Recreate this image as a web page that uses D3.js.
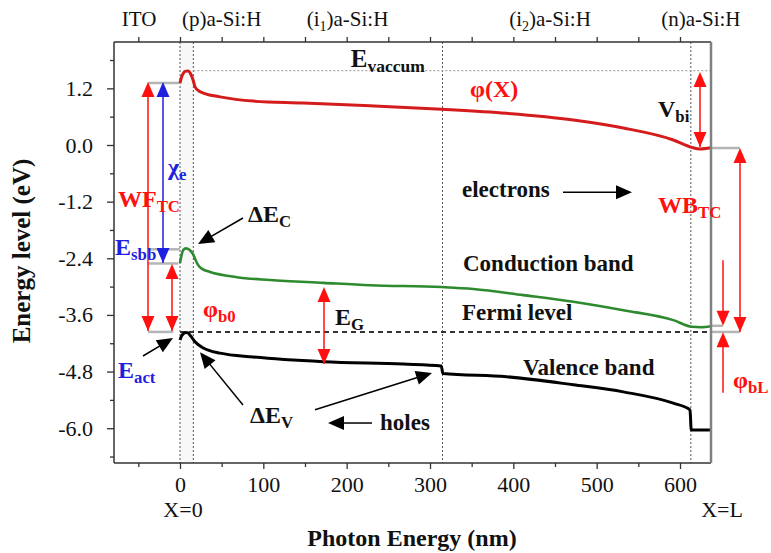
<!DOCTYPE html>
<html><head><meta charset="utf-8">
<script src="https://cdn.jsdelivr.net/npm/d3@7"></script>
<style>
html,body{margin:0;padding:0;background:#fff;}
svg, svg text, svg tspan{font-family:'Liberation Serif','DejaVu Serif','Times New Roman',serif !important;}
</style></head>
<body><svg id="c" width="771" height="553" font-family="Liberation Serif, DejaVu Serif, serif"></svg>
<script>
// ---------- data ----------
const xMajorTicks = [0,100,200,300,400,500,600];
const xMinorTicks = [-50,50,150,250,350,450,550];
const yMajorTicks = [-6.0,-4.8,-3.6,-2.4,-1.2,0.0,1.2];
const yMinorTicks = [-6.6,-5.4,-4.2,-3.0,-1.8,-0.6,0.6,1.8];
const layerNames = ["ITO","(p)a-Si:H","(i1)a-Si:H","(i2)a-Si:H","(n)a-Si:H"];
const layerLabelX = [-49,50,201,444,625];
const interfaces = [0,16,315,613];
const vacuumLevelX = [0,1.5,4,6,9.6,13,16,18,23,28,48,88,148,228,314,392,472,532,592,614,624,637];
const vacuumLevelE = [1.31,1.42,1.52,1.56,1.57,1.50,1.36,1.23,1.14,1.10,1.02,0.93,0.89,0.83,0.756,0.67,0.53,0.36,0.106,-0.05,-0.085,-0.06];
const conductionX = [0,1.5,4,7,9.6,12.5,15.6,19,21.6,27,36,68,108,172,228,314,352,412,472,532,592,614,625,637];
const conductionE = [-2.50,-2.36,-2.22,-2.19,-2.20,-2.24,-2.31,-2.45,-2.54,-2.63,-2.69,-2.80,-2.86,-2.92,-2.97,-3.01,-3.05,-3.18,-3.32,-3.50,-3.71,-3.85,-3.86,-3.84];
const valenceX = [0,1.5,4,7,9.6,13,18,28,48,88,172,268,313.5,315.5,392,472,532,592,612,613.5,625,637];
const valenceE = [-4.13,-4.06,-4.00,-3.97,-3.98,-4.05,-4.17,-4.30,-4.41,-4.49,-4.59,-4.64,-4.68,-4.84,-4.91,-5.08,-5.23,-5.47,-5.61,-6.04,-6.04,-6.04];
const fermiE = -3.96;
const vacuumRefE = 1.575;

// ---------- layout ----------
const FONT = "'Liberation Serif','DejaVu Serif',serif";
const svg = d3.select("#c");
const L=114,R=711,T=42,B=463;
const x = d3.scaleLinear().domain([-79.2,637.2]).range([L,R]);
const y = d3.scaleLinear().domain([-6.737,2.182]).range([B,T]);
const RED="#ff1010", BLUE="#1f1fe0", CURVERED="#d41c1c", GREEN="#2e8a2e";

// light shading of p-layer
svg.append("rect").attr("x",x(interfaces[0])).attr("y",T).attr("width",x(interfaces[1])-x(interfaces[0])).attr("height",B-T).attr("fill","#f8f8f8");

// interface dotted lines
svg.selectAll("line.intf").data(interfaces).enter().append("line")
  .attr("x1",d=>x(d)).attr("x2",d=>x(d)).attr("y1",T).attr("y2",B)
  .attr("stroke","#555").attr("stroke-width",1).attr("stroke-dasharray","2,2");

// vacuum reference dotted
svg.append("line").attr("x1",x(interfaces[1])).attr("x2",R).attr("y1",y(vacuumRefE)).attr("y2",y(vacuumRefE))
  .attr("stroke","#aaa").attr("stroke-width",1.2).attr("stroke-dasharray","2,2");

// gray level connectors
const gray = [[-38.4,0,1.314],[-38.4,0,-2.21],[-38.4,-2,-2.51],[-38.4,-8,fermiE],[637,672,-0.064],[637,651.6,-3.83],[637,672,fermiE]];
svg.selectAll("line.gl").data(gray).enter().append("line")
  .attr("x1",d=>x(d[0])).attr("x2",d=>x(d[1])).attr("y1",d=>y(d[2])).attr("y2",d=>y(d[2]))
  .attr("stroke","#b5b5b5").attr("stroke-width",2.5);

// Fermi level
svg.append("line").attr("x1",x(0)).attr("x2",R).attr("y1",y(fermiE)).attr("y2",y(fermiE))
  .attr("stroke","#333").attr("stroke-width",2).attr("stroke-dasharray","5,4");

// curves
const line = d3.line().x(d=>x(d[0])).y(d=>y(d[1])).curve(d3.curveMonotoneX);
function curve(xs,es,color,w){
  svg.append("path").datum(xs.map((v,i)=>[v,es[i]])).attr("d",line)
    .attr("fill","none").attr("stroke",color).attr("stroke-width",w).attr("stroke-linejoin","round");
}
curve(vacuumLevelX,vacuumLevelE,CURVERED,3);
curve(conductionX,conductionE,GREEN,2.6);
curve(valenceX,valenceE,"#000",3);

// frame
svg.append("line").attr("x1",L).attr("x2",R).attr("y1",T).attr("y2",T).attr("stroke","#333").attr("stroke-width",1.5);
svg.append("line").attr("x1",L).attr("x2",R).attr("y1",B).attr("y2",B).attr("stroke","#333").attr("stroke-width",1.5);
svg.append("line").attr("x1",L).attr("x2",L).attr("y1",T).attr("y2",B).attr("stroke","#333").attr("stroke-width",1.5);
svg.append("line").attr("x1",R).attr("x2",R).attr("y1",T).attr("y2",B).attr("stroke","#808080").attr("stroke-width",2.5);

// axes
function styleAxis(g){ g.attr("font-family",FONT); g.select(".domain").remove(); g.selectAll("line").attr("stroke","#333").attr("stroke-width",1.3);
  g.selectAll("text").attr("font-size","22px").attr("fill","#111").attr("font-family",FONT); }
svg.append("g").attr("transform",`translate(0,${B})`)
  .call(d3.axisBottom(x).tickValues(xMajorTicks).tickSize(6).tickPadding(7).tickFormat(d3.format("d"))).call(styleAxis);
svg.append("g").attr("transform",`translate(0,${B})`)
  .call(d3.axisBottom(x).tickValues(xMinorTicks).tickSize(4).tickFormat("")).call(styleAxis);
svg.append("g").attr("transform",`translate(0,${T})`)
  .call(d3.axisTop(x).tickValues(xMajorTicks.concat(xMinorTicks)).tickSize(5).tickFormat("")).call(styleAxis);
svg.append("g").attr("transform",`translate(${L},0)`)
  .call(d3.axisLeft(y).tickValues(yMajorTicks).tickSize(7).tickPadding(14).tickFormat(d=>d.toFixed(1))).call(styleAxis);
svg.append("g").attr("transform",`translate(${L},0)`)
  .call(d3.axisLeft(y).tickValues(yMinorTicks).tickSize(4).tickFormat("")).call(styleAxis);

// top layer labels
layerNames.forEach((n,i)=>{
  const t = svg.append("text").attr("x",x(layerLabelX[i])).attr("y",26).attr("text-anchor","middle")
    .attr("font-size","21px").attr("fill","#111").attr("font-family",FONT);
  const m = n.match(/^\((i)(\d)\)(.*)$/);
  if(m){ t.append("tspan").text("("+m[1]); t.append("tspan").attr("font-size","14px").attr("dy",5).text(m[2]);
         t.append("tspan").attr("dy",-5).text(")"+m[3]); }
  else t.text(n);
});

// axis titles
svg.append("text").attr("x",412).attr("y",546).attr("text-anchor","middle").attr("font-size","24px").attr("font-weight","bold").attr("fill","#111").attr("font-family",FONT).text("Photon Energy (nm)");
svg.append("text").attr("transform","translate(30,251) rotate(-90)").attr("text-anchor","middle").attr("font-size","25px").attr("font-weight","bold").attr("fill","#111").attr("font-family",FONT).text("Energy level (eV)");
svg.append("text").attr("x",x(0)+3).attr("y",517).attr("text-anchor","middle").attr("font-size","22px").attr("fill","#111").attr("font-family",FONT).text("X=0");
svg.append("text").attr("x",722).attr("y",517).attr("text-anchor","middle").attr("font-size","22px").attr("fill","#111").attr("font-family",FONT).text("X=L");

// arrows
function head(px,py,ang,color,hl,hw){
  const ca=Math.cos(ang), sa=Math.sin(ang);
  const bx=px-hl*ca, by=py-hl*sa;
  svg.append("path").attr("d",`M${px},${py}L${bx-hw*sa},${by+hw*ca}L${bx+hw*sa},${by-hw*ca}Z`).attr("fill",color);
}
function arrow(x1,e1,x2,e2,color,both,hl,hw,w){
  const X1=x(x1),Y1=y(e1),X2=x(x2),Y2=y(e2);
  const ang=Math.atan2(Y2-Y1,X2-X1);
  svg.append("line").attr("x1",X1).attr("y1",Y1).attr("x2",X2-Math.cos(ang)*hl*0.8).attr("y2",Y2-Math.sin(ang)*hl*0.8)
    .attr("stroke",color).attr("stroke-width",w);
  head(X2,Y2,ang,color,hl,hw);
  if(both) head(X1,Y1,ang+Math.PI,color,hl,hw);
}
// red / blue double arrows
arrow(-38.4,-3.94,-38.4,1.335,RED,true,15,6.5,1.5);
arrow(-20.4,-2.50,-20.4,1.335,BLUE,true,15,6.5,1.5);
arrow(-9.6,-3.94,-9.6,-2.52,RED,true,15,6.5,1.5);
arrow(172.8,-4.64,172.8,-3.01,RED,true,15,6.5,1.5);
arrow(624,-0.04,624,1.547,RED,true,15,6.5,1.5);
arrow(672,-3.96,672,-0.064,RED,true,15,6.5,1.5);
arrow(651.6,-2.44,651.6,-3.83,RED,false,15,6.5,1.5);
arrow(651.6,-5.25,651.6,-3.965,RED,false,15,6.5,1.5);
// black pointer arrows
arrow(75.6,-1.547,21.6,-2.10,"#000",false,16,7,1.5);
arrow(75.6,-5.51,24,-4.39,"#000",false,16,7,1.5);
arrow(162,-5.61,302.4,-4.83,"#000",false,16,7,1.5);
arrow(-44.4,-4.47,-8.4,-4.09,"#000",false,16,7,1.5);
arrow(230.4,-5.89,177.6,-5.89,"#000",false,16,7,1.5);
arrow(459.6,-1.0,542.4,-1.0,"#000",false,16,7,1.5);

// annotation labels: [x(nm), E(eV), main, sub, color, size]
const labels = [
 [205,1.65,"E","vaccum","#111",25],
 [348,1.02,"φ(X)","",RED,24],
 [573.6,0.59,"V","bi","#111",24],
 [573.6,-1.44,"WB","TC",RED,24],
 [663.6,-5.15,"φ","bL",RED,24],
 [-74.4,-1.31,"WF","TC",RED,24],
 [-14.4,-0.64,"χ","e",BLUE,24],
 [-78,-2.33,"E","sbb",BLUE,24],
 [27.6,-3.64,"φ","b0",RED,24],
 [-74.4,-4.94,"E","act",BLUE,24],
 [81.6,-1.63,"ΔE","C","#111",24],
 [84,-5.89,"ΔE","V","#111",24],
 [186,-3.81,"E","G","#111",24],
 [338.4,-1.10,"electrons","","#111",23],
 [339.6,-2.67,"Conduction band","","#111",23],
 [338.4,-3.71,"Fermi level","","#111",23],
 [411.6,-4.87,"Valence band","","#111",23],
 [240,-6.04,"holes","","#111",23]
];
labels.forEach(l=>{
  const t=svg.append("text").attr("x",x(l[0])).attr("y",y(l[1])).attr("font-size",l[5]+"px").attr("font-weight","bold").attr("fill",l[4]).attr("font-family",FONT);
  t.append("tspan").text(l[2]);
  if(l[3]) t.append("tspan").attr("font-size",(l[5]*0.7)+"px").attr("dy",5).text(l[3]);
});
</script></body></html>
